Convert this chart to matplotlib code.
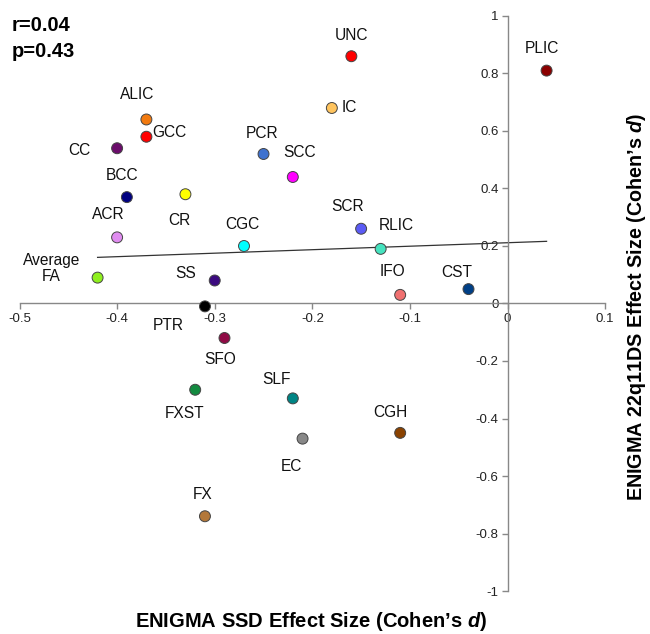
import numpy as np
import matplotlib
matplotlib.use("Agg")
import matplotlib.pyplot as plt

plt.rcParams['font.family'] = ['Liberation Sans', 'DejaVu Sans']
plt.rcParams['mathtext.fontset'] = 'custom'
plt.rcParams['mathtext.bfit'] = 'Liberation Sans:italic:bold'

# Données
regions = ["UNC", "PLIC", "IC", "SCR", "RLIC", "IFO", "CST", "ALIC", "GCC", "CC",
           "PCR", "SCC", "BCC", "CR", "ACR", "CGC", "Average\nFA", "SS", "PTR",
           "SFO", "FXST", "SLF", "EC", "FX", "CGH"]
ssd_d = [-0.16, 0.04, -0.18, -0.15, -0.13, -0.11, -0.04, -0.37, -0.37, -0.40,
         -0.25, -0.22, -0.39, -0.33, -0.40, -0.27, -0.42, -0.30, -0.31,
         -0.29, -0.32, -0.22, -0.21, -0.31, -0.11]
ds_d = [0.86, 0.81, 0.68, 0.26, 0.19, 0.03, 0.05, 0.64, 0.58, 0.54,
        0.52, 0.44, 0.37, 0.38, 0.23, 0.20, 0.09, 0.08, -0.01,
        -0.12, -0.30, -0.33, -0.47, -0.74, -0.45]
colors = ["#ff0000", "#8b0000", "#ffc45e", "#5b5bf5", "#45e3bf", "#f07070", "#003f86",
          "#f27a0f", "#ff0000", "#6b0d6b", "#3f72cf", "#ff00ff", "#000080", "#ffff00",
          "#e08cf0", "#00ffff", "#8fef1f", "#3b0a7f", "#000000", "#8f0a45",
          "#138a40", "#008585", "#888888", "#b3783a", "#8a4200"]
# décalage des étiquettes (pixels) et alignement
label_dx = [0, -5, 10, -14, 16, -8, -12, -9, 6, -38, -1, 7, -5, -6, -9, -2, -46, -29, -37,
            -4, -11, -16, -11, -2, -10]
label_dy = [21, 22, 0, 22, 23, 23, 17, 25, 4, -2, 20, 24, 22, -26, 23, 21, 9, 7, -19,
            -22, -24, 19, -28, 22, 20]
label_ha = ["center", "center", "left", "center", "center", "center", "center", "center",
            "left", "center", "center", "center", "center", "center", "center", "center",
            "center", "center", "center", "center", "center", "center", "center", "center",
            "center"]

fig = plt.figure(figsize=(6.5, 6.34), dpi=100)
ax = fig.add_axes([0.030, 0.0678, 0.901, 0.907])

ax.scatter(ssd_d, ds_d, s=62, c=colors, edgecolors="#444444", linewidths=0.7, zorder=3)

# droite de régression
slope, intercept = np.polyfit(ssd_d, ds_d, 1)
xfit = np.array([min(ssd_d), max(ssd_d)])
ax.plot(xfit, slope * xfit + intercept, color="#333333", lw=0.9, zorder=2)

for name, x, y, dx, dy, ha in zip(regions, ssd_d, ds_d, label_dx, label_dy, label_ha):
    ax.annotate(name, (x, y), xytext=(dx, dy), textcoords="offset pixels",
                ha=ha, va="center", fontsize=11.2, linespacing=1.05, color="#111111")

ax.set_xlim(-0.5, 0.1)
ax.set_ylim(-1, 1)
ax.spines['left'].set_position(('data', 0))
ax.spines['bottom'].set_position(('data', 0))
ax.spines['right'].set_visible(False)
ax.spines['top'].set_visible(False)
for sp in ['left', 'bottom']:
    ax.spines[sp].set_color("#888888")
    ax.spines[sp].set_linewidth(1.0)

ax.set_xticks([-0.5, -0.4, -0.3, -0.2, -0.1, 0, 0.1])
ax.set_xticklabels(["-0.5", "-0.4", "-0.3", "-0.2", "-0.1", "0", "0.1"])
ax.set_yticks([-1, -0.8, -0.6, -0.4, -0.2, 0, 0.2, 0.4, 0.6, 0.8, 1])
ax.set_yticklabels(["-1", "-0.8", "-0.6", "-0.4", "-0.2", "0", "0.2", "0.4", "0.6", "0.8", "1"])
ax.tick_params(axis='both', labelsize=9.5, color="#888888", length=4, width=1.0,
               direction='out', labelcolor="#222222", pad=2.5)

fig.text(0.018, 0.951, "r=0.04", fontsize=14.5, fontweight='bold', va='baseline')
fig.text(0.018, 0.910, "p=0.43", fontsize=14.5, fontweight='bold', va='baseline')

fig.text(0.479, 0.020, "ENIGMA SSD Effect Size (Cohen\u2019s $\\bfit{d}$)", fontsize=14.5,
         fontweight='bold', ha='center', va='center')
fig.text(0.980, 0.516, "ENIGMA 22q11DS Effect Size (Cohen\u2019s $\\bfit{d}$)", fontsize=14.2,
         fontweight='bold', ha='center', va='center', rotation=90)

fig.savefig("out.png", dpi=100)
